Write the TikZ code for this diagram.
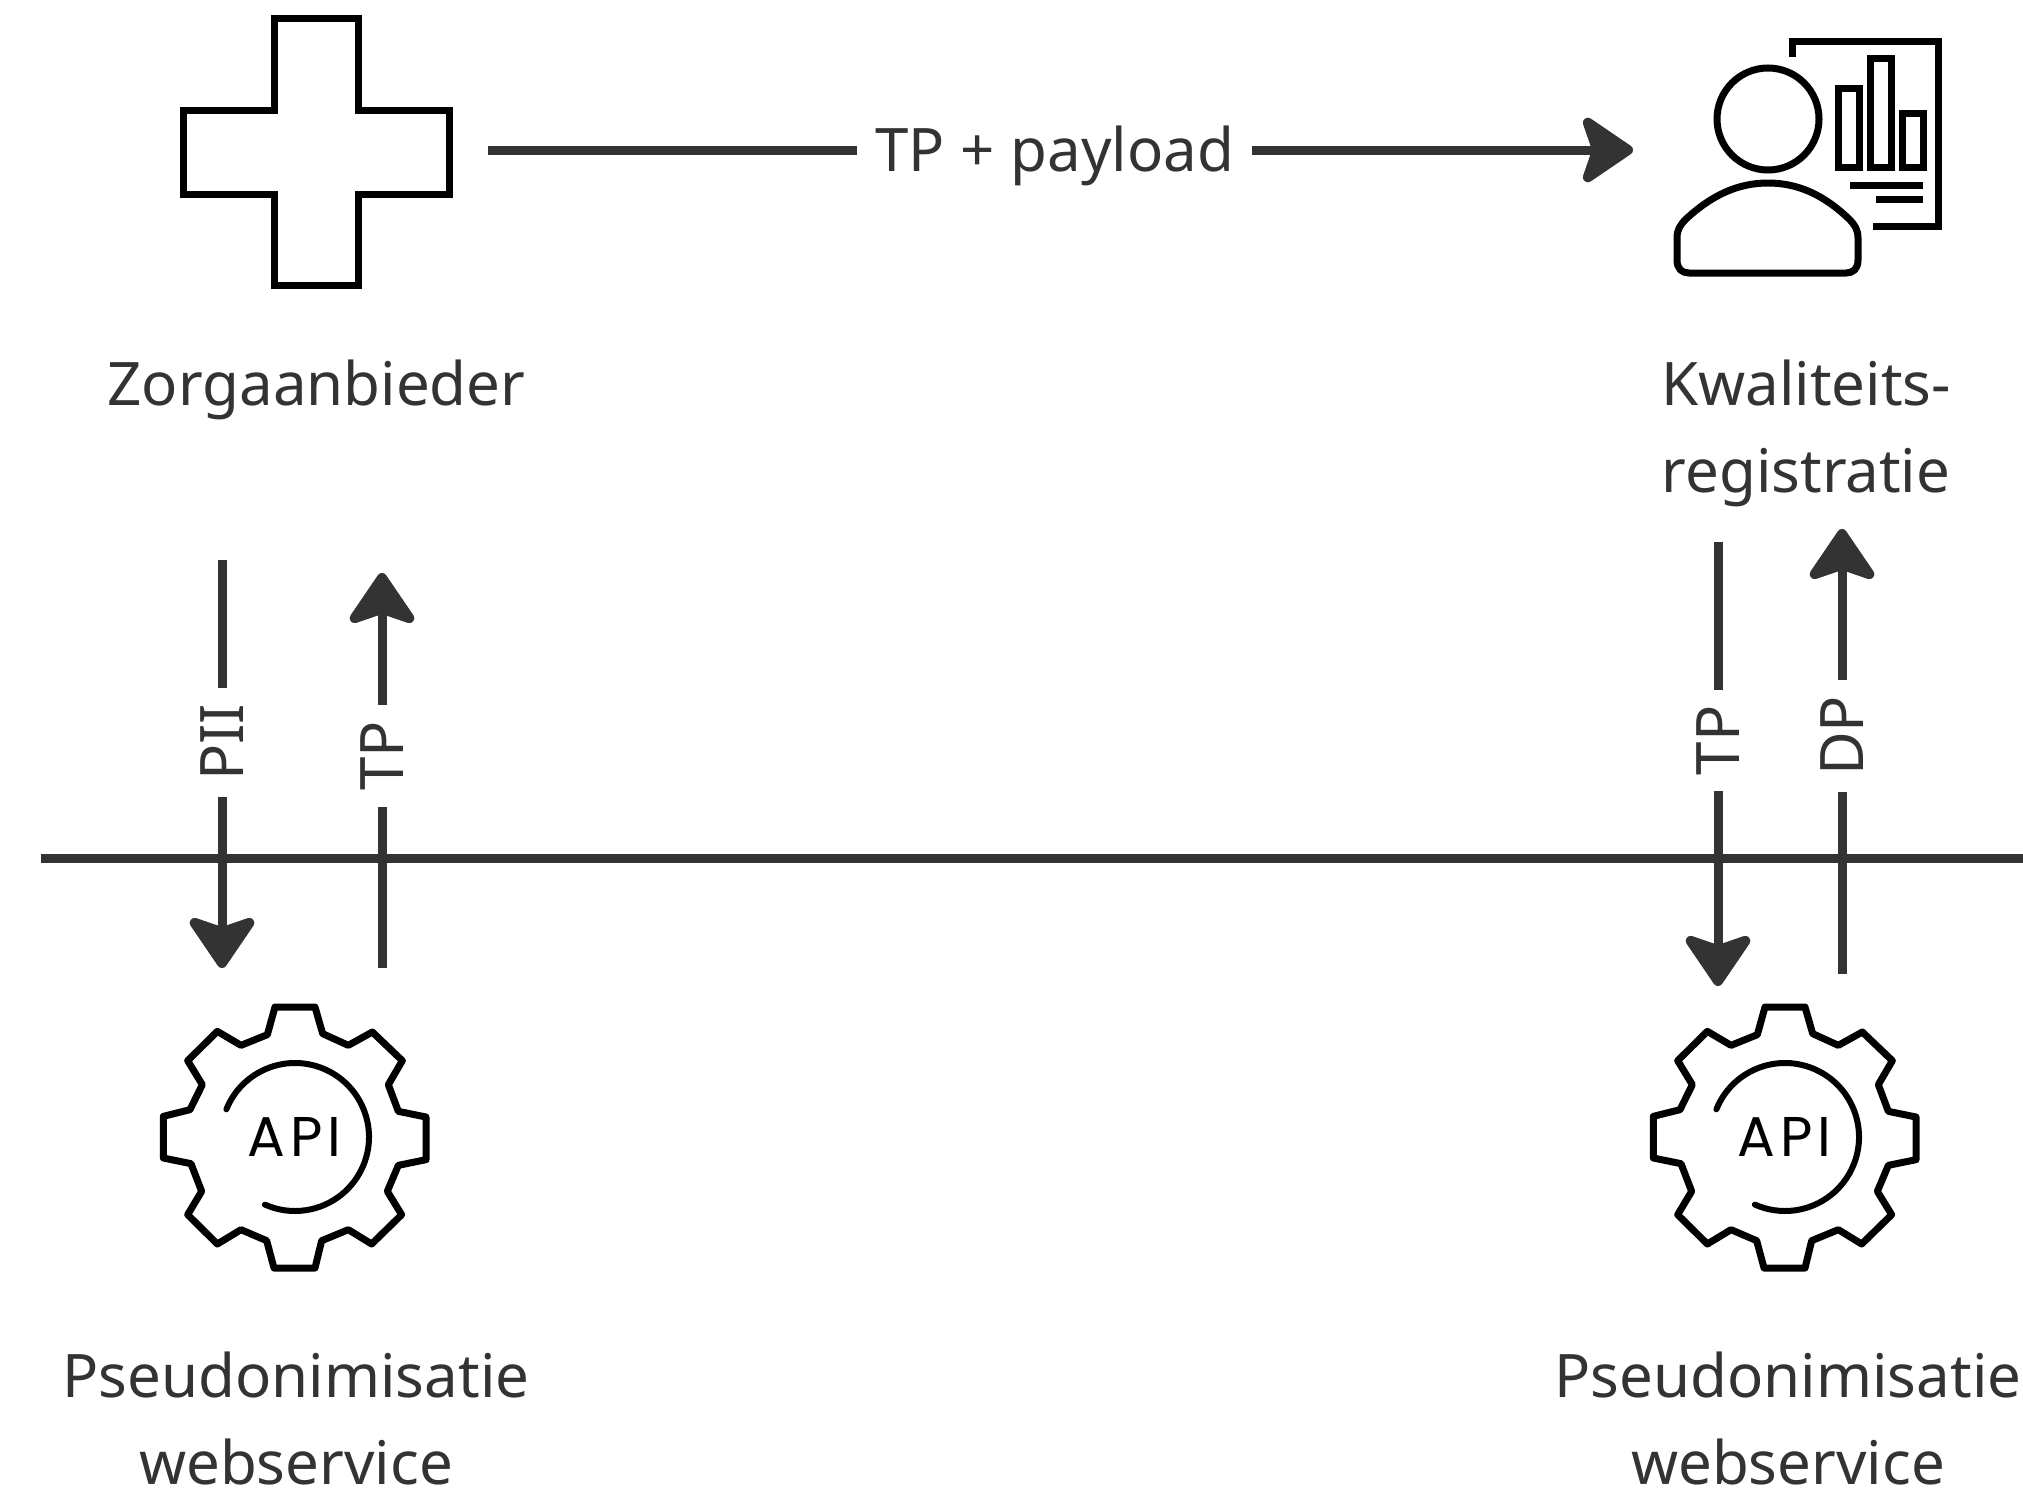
\documentclass[tikz,border=0pt]{standalone}
\usepackage{fontspec}
\setmainfont{Noto Sans}
\newfontfamily\apifont[LetterSpace=9]{Poppins}
\usetikzlibrary{arrows.meta}
\definecolor{ink}{HTML}{333333}
\tikzset{
  x=1pt,y=-1pt,
  conn/.style={draw=ink,line width=9pt,-{Stealth[length=58pt,width=78pt,inset=13pt,round,line width=10pt]}},
  divider/.style={draw=ink,line width=9pt},
  lbl/.style={fill=white,text=ink,font=\fontsize{60}{87}\selectfont,align=center,inner xsep=18pt,inner ysep=6pt},
  vlbl/.style={fill=white,text=ink,font=\fontsize{60}{60}\selectfont,rotate=90,inner xsep=16pt,inner ysep=2pt},
  title/.style={text=ink,font=\fontsize{60}{87}\selectfont,align=center,inner sep=0pt},
  icon/.style={draw=black,line width=7pt,miter limit=10},
  gear/.pic={
    \begin{scope}[xscale=1/3,yscale=1/3,shift={(-465,-472)}]
    \draw[icon,line width=7pt,line join=round] (405,82)--(525,82)--(548,162)--(625,197)--(697,157)--(787,243)--(745,315)--(775,395)--(858,412)--(858,540)--(775,557)--(742,635)--(785,705)--(695,793)--(625,750)--(545,783)--(525,865)--(402,865)--(380,783)--(303,750)--(232,793)--(143,705)--(185,635)--(153,552)--(70,535)--(70,410)--(150,390)--(187,315)--(143,243)--(232,155)--(303,197)--(382,165)--cycle;
    \end{scope}
    \begin{scope}[y=1pt]
    \draw[draw=black,line width=6pt,line cap=round] (158:74) arc[start angle=158,end angle=-114,radius=74];
    \end{scope}
    \node[inner sep=0pt,font=\apifont\fontsize{56}{56}\selectfont] at (-0.5,0) {API};
  }
}
\begin{document}
\begin{tikzpicture}
\useasboundingbox (0,0) rectangle (2023,1488);
\fill[white] (0,0) rectangle (2023,1488);
% coordinates for connector ends
\coordinate (topA) at (488,150);
\coordinate (topB) at (1633,150);
\coordinate (divA) at (41,858);
\coordinate (divB) at (2023,858);
\coordinate (piiA) at (222,560);
\coordinate (piiB) at (222,968);
\coordinate (tpA) at (382,968);
\coordinate (tpB) at (382,573);
\coordinate (tprA) at (1718,542);
\coordinate (tprB) at (1718,986);
\coordinate (dpA) at (1842,974);
\coordinate (dpB) at (1842,529);
% divider
\draw[divider] (divA) -- (divB);
% connectors
\draw[conn] (topA) -- node[lbl,pos=.495,yshift=-6pt] (lbltop) {TP + payload} (topB);
\draw[conn] (piiA) -- node[vlbl,pos=.447] (lblpii) {PII} (piiB);
\draw[conn] (tpA) -- node[vlbl,pos=.537] (lbltp) {TP} (tpB);
\draw[conn] (tprA) -- node[vlbl,pos=.447] (lbltpr) {TP} (tprB);
\draw[conn] (dpA) -- node[vlbl,pos=.535] (lbldp) {DP} (dpB);
% cross
\draw[icon] (274,19) -- (358,19) -- (358,110) -- (449.5,110) -- (449.5,194) -- (358,194) -- (358,285) -- (274,285) -- (274,194) -- (183.5,194) -- (183.5,110) -- (274,110) -- cycle;
% person and report
\draw[icon] (1768,119) circle[radius=51];
\draw[icon,line join=round] (1677,238) .. controls (1677,230) and (1680,225) .. (1686,219) .. controls (1712,195) and (1738,183) .. (1768,183) .. controls (1798,183) and (1824,195) .. (1849,219) .. controls (1855,225) and (1858,230) .. (1858,238) -- (1858,260) .. controls (1858,269) and (1853,273) .. (1846,273) -- (1689,273) .. controls (1682,273) and (1677,269) .. (1677,260) -- cycle;
\draw[icon] (1792,57) -- (1792,42) -- (1938,42) -- (1938,226) -- (1873,226);
\draw[icon] (1838.5,88) rectangle (1859,167);
\draw[icon] (1870,59) rectangle (1891,167);
\draw[icon] (1902,113) rectangle (1923,167);
\draw[icon] (1850,185) -- (1923,185);
\draw[icon] (1876,199) -- (1923,199);
% gears
\pic at (295,1137) {gear};
\pic at (1785,1137) {gear};
% titles
\node[title] (zorg) at (316.5,390) {Zorgaanbieder};
\node[title] (kwal) at (1806,433) {Kwaliteits-\\registratie};
\node[title] (pseuL) at (296,1418) {Pseudonimisatie\\webservice};
\node[title] (pseuR) at (1788,1418) {Pseudonimisatie\\webservice};
\end{tikzpicture}
\end{document}
